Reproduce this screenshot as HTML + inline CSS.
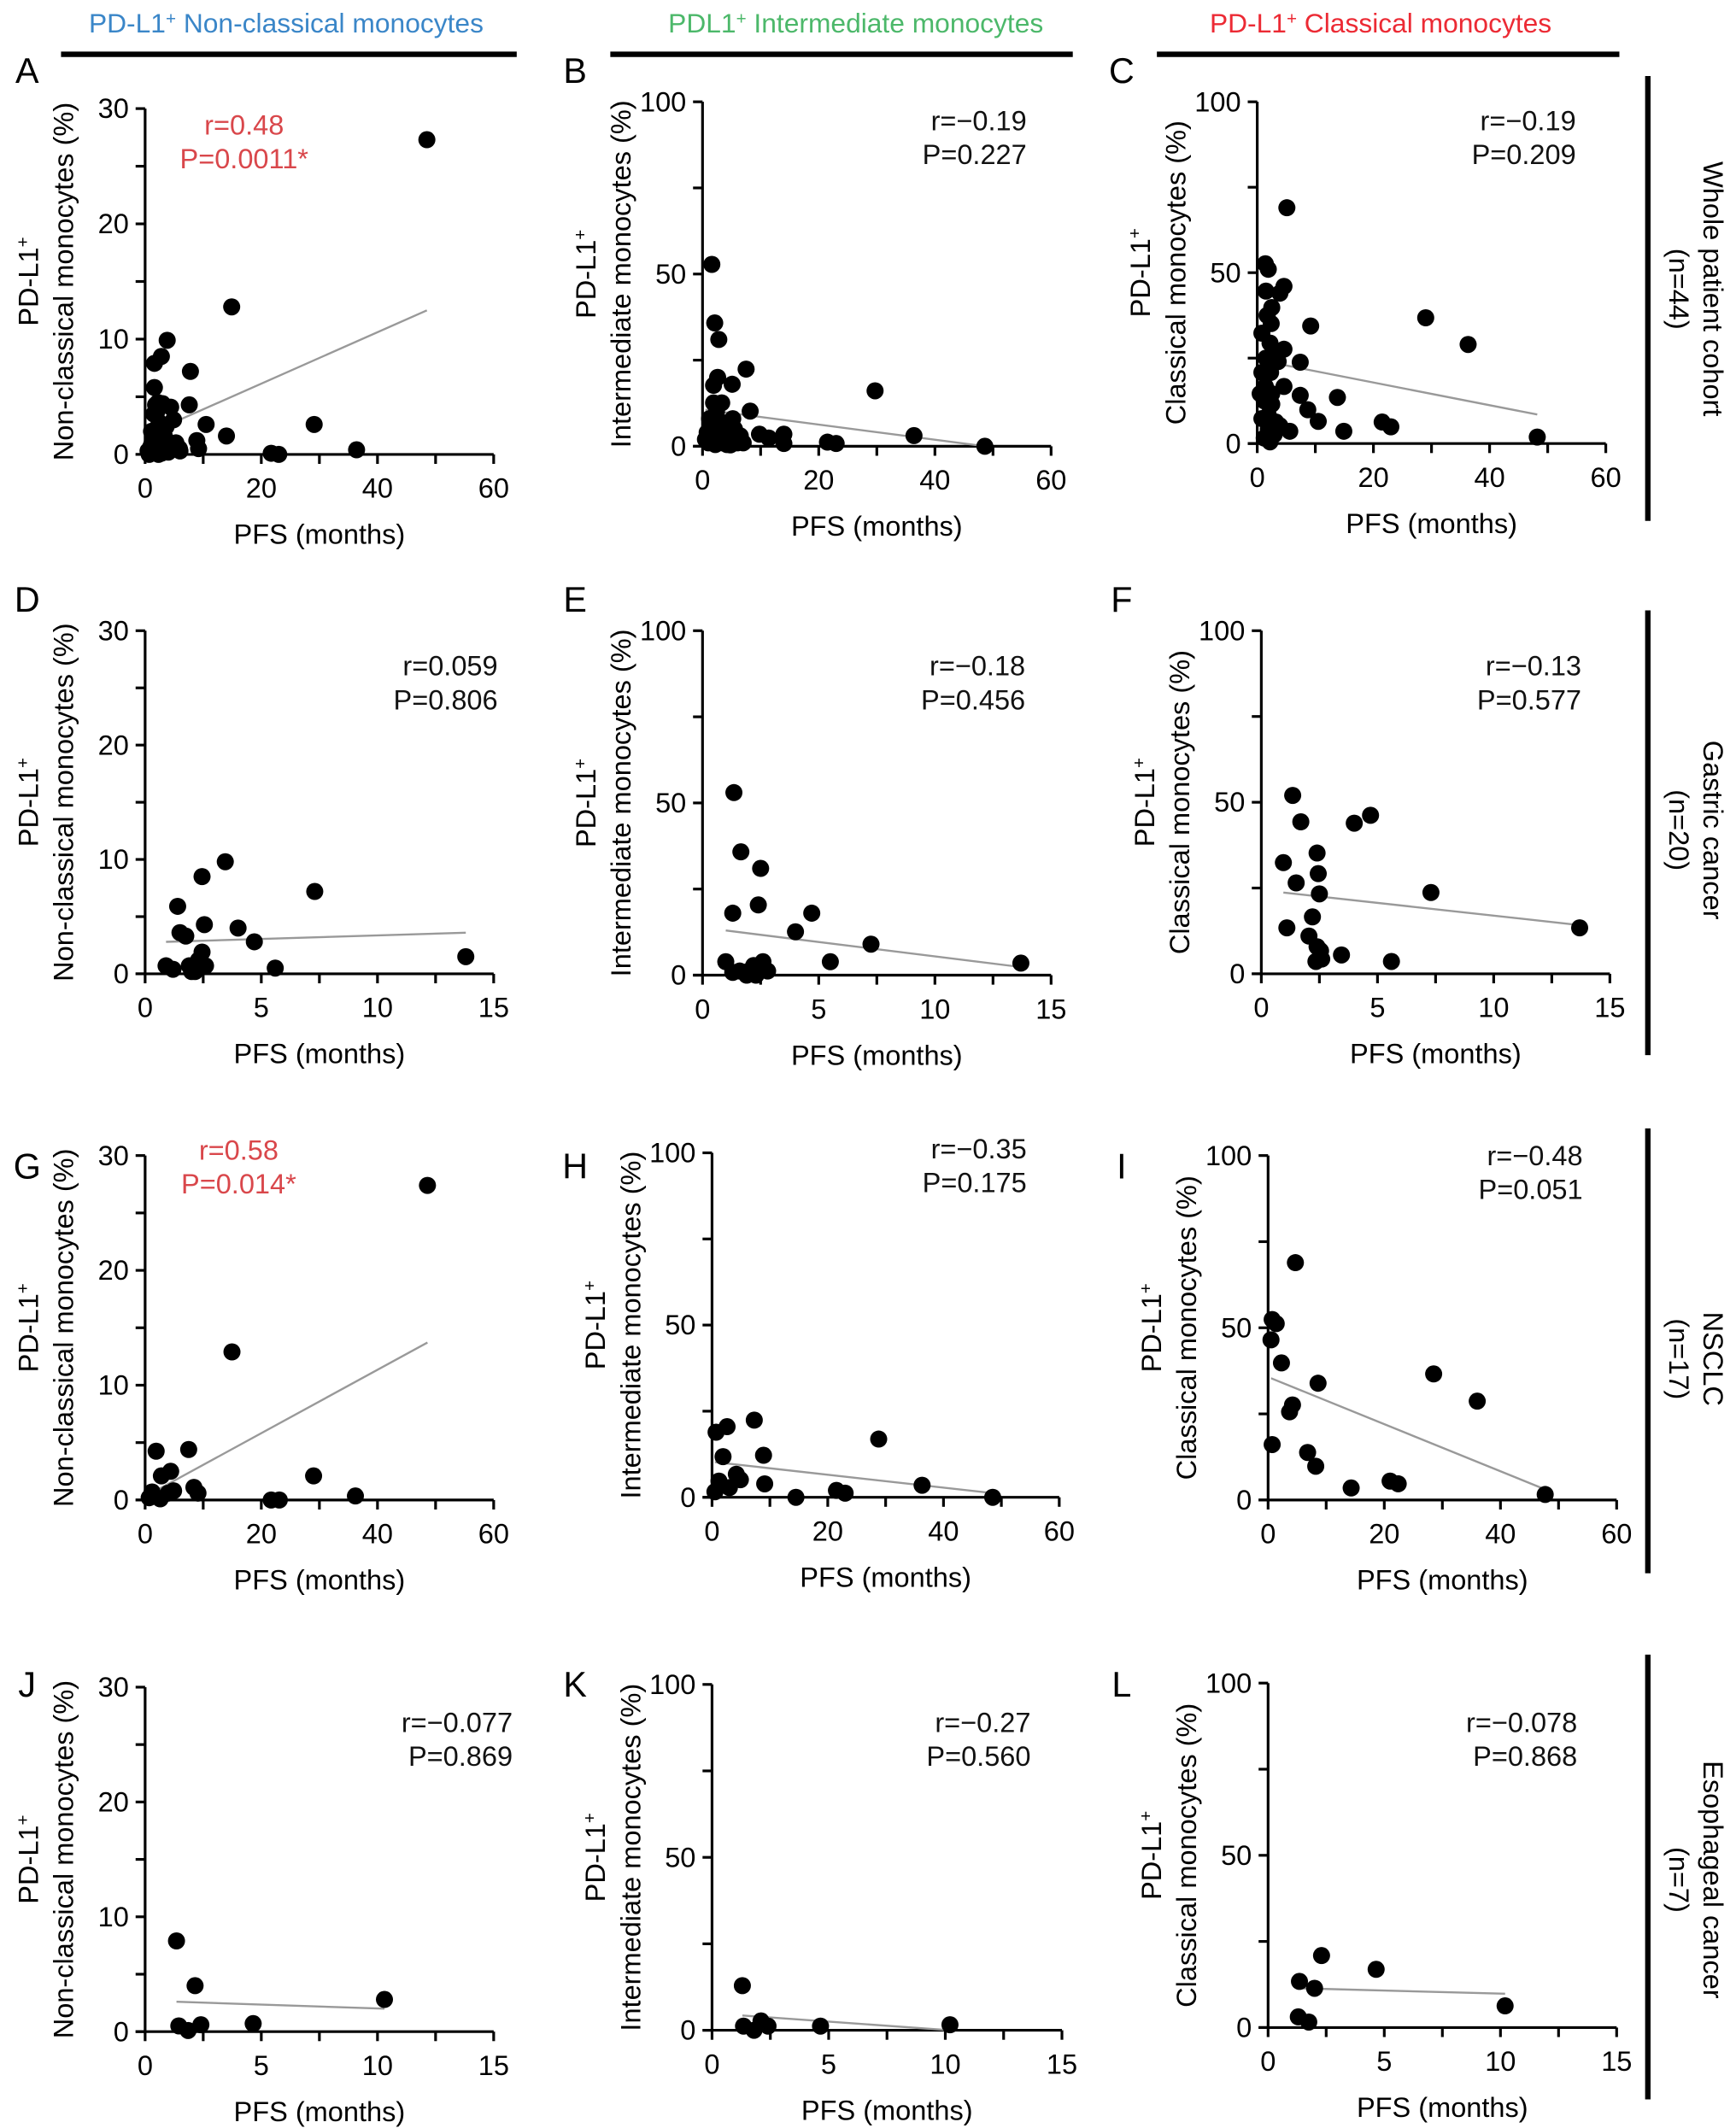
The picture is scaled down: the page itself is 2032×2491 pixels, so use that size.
<!DOCTYPE html>
<html><head><meta charset="utf-8"><style>
html,body{margin:0;padding:0;background:#fff;}
svg{display:block;}
text{font-family:"Liberation Sans",Arial,sans-serif;}
</style></head><body>
<svg id="fig" xmlns="http://www.w3.org/2000/svg" width="2032" height="2491" viewBox="0 0 1280 1569">
<g>
<text x="211" y="24" font-size="20" text-anchor="middle" fill="#3a86c8">PD-L1<tspan font-size="13" dy="-6">+</tspan><tspan dy="6"> Non-classical monocytes</tspan></text>
<line x1="45" y1="40" x2="381" y2="40" stroke="#000" stroke-width="4"/>
<text x="631" y="24" font-size="20" text-anchor="middle" fill="#4cb86a">PDL1<tspan font-size="13" dy="-6">+</tspan><tspan dy="6"> Intermediate monocytes</tspan></text>
<line x1="450" y1="40" x2="791" y2="40" stroke="#000" stroke-width="4"/>
<text x="1018" y="24" font-size="20" text-anchor="middle" fill="#ec2a34">PD-L1<tspan font-size="13" dy="-6">+</tspan><tspan dy="6"> Classical monocytes</tspan></text>
<line x1="853" y1="40" x2="1194" y2="40" stroke="#000" stroke-width="4"/>
</g>
<g>
<line x1="1215" y1="56" x2="1215" y2="384" stroke="#000" stroke-width="4"/>
<text transform="translate(1256,213) rotate(90)" font-size="20.5" text-anchor="middle">Whole patient cohort</text>
<text transform="translate(1231,213) rotate(90)" font-size="20.5" text-anchor="middle">(n=44)</text>
<line x1="1215" y1="450" x2="1215" y2="778" stroke="#000" stroke-width="4"/>
<text transform="translate(1256,612) rotate(90)" font-size="20.5" text-anchor="middle">Gastric cancer</text>
<text transform="translate(1231,612) rotate(90)" font-size="20.5" text-anchor="middle">(n=20)</text>
<line x1="1215" y1="832" x2="1215" y2="1160" stroke="#000" stroke-width="4"/>
<text transform="translate(1256,1002) rotate(90)" font-size="20.5" text-anchor="middle">NSCLC</text>
<text transform="translate(1231,1002) rotate(90)" font-size="20.5" text-anchor="middle">(n=17)</text>
<line x1="1215" y1="1220" x2="1215" y2="1548" stroke="#000" stroke-width="4"/>
<text transform="translate(1256,1386) rotate(90)" font-size="20.5" text-anchor="middle">Esophageal cancer</text>
<text transform="translate(1231,1386) rotate(90)" font-size="20.5" text-anchor="middle">(n=7)</text>
</g>
<g id="panels"></g>
</svg>
<script>
// ---- data (PFS months, % positive) ----
const aX=[48.5,14.9,3.8,2.8,1.6,7.8,1.6,1.8,3.0,4.4,7.6,10.5,14.0,4.9,3.6,2.6,29.1,36.4,21.7,23.0,5.3,5.9,8.9,9.2,1.0,1.6,2.3,0.7,3.3,2.0,1.2,2.5,3.0,4.5,1.5,2.2,3.5,0.5,6.0,1.8,2.8,4.0,1.1,2.4];
const aY=[27.3,12.8,9.9,8.5,7.9,7.2,5.8,4.3,4.4,4.1,4.3,2.6,1.6,3.0,2.4,1.9,2.6,0.4,0.1,0.0,1.0,0.5,1.2,0.5,0.7,0.2,0.0,0.0,1.6,3.7,1.0,0.3,0.8,0.6,3.5,4.5,1.2,0.3,0.3,0.5,0.1,0.2,2.0,2.8];
const bX=[1.6,2.1,2.8,2.6,7.5,1.9,5.1,1.9,3.3,8.2,14.0,9.8,11.4,14.0,29.7,36.4,48.6,21.5,23.0,1.0,1.5,2.0,2.5,3.0,3.5,4.0,4.5,5.0,5.5,6.0,0.8,1.2,2.2,3.2,4.2,6.5,7.0,1.8,2.8,3.8,5.2,0.5,2.4,4.8];
const bY=[52.8,35.8,31.0,20.0,22.4,17.7,18.0,12.6,12.6,10.2,3.5,3.5,2.4,0.8,16.1,3.1,0.0,1.2,0.8,1.0,3.0,5.0,2.0,4.0,1.0,6.0,3.0,2.0,5.0,1.0,4.0,8.0,0.5,7.0,0.5,3.0,1.0,2.0,6.0,3.0,8.0,2.0,10.0,0.4];
const cX=[5.1,1.4,1.9,4.6,3.9,1.5,2.5,2.4,9.2,0.8,2.2,4.6,3.2,7.4,2.3,29.0,36.3,1.4,4.6,7.4,13.8,8.7,10.5,14.9,21.5,23.0,5.6,48.2,0.8,1.2,2.5,3.2,1.9,2.9,1.2,2.2,0.5,1.9,3.9,1.5,0.8,2.5,3.6,1.7];
const cY=[69,52.6,51,46,44,44.6,39.8,35.1,34.4,32.3,29.4,27.6,25.8,23.8,20.8,36.8,29,16.7,16.7,14.1,13.5,9.9,6.5,3.6,6.3,4.9,3.6,1.9,20.8,12.5,11.5,6.3,4.2,2.6,1.6,0.5,14.6,8.3,5.2,25,7.3,14.6,24,37.5];
const dX=[0.9,1.2,1.4,1.5,1.75,2.45,3.45,2.55,4.0,4.7,5.6,7.3,13.8,1.9,2.15,2.3,2.45,2.6,2.25,2.0];
const dY=[0.7,0.4,5.9,3.6,3.3,8.5,9.8,4.3,4.0,2.8,0.5,7.2,1.5,0.7,0.2,1.2,1.9,0.7,0.4,0.2];
const eX=[1.35,1.65,2.5,1.3,2.4,4.7,4.0,7.25,5.5,13.7,1.0,1.3,2.0,2.2,2.45,2.6,2.3,1.9,2.8,1.6];
const eY=[53,35.8,31,18,20.4,18,12.6,9,3.9,3.5,3.9,0.8,1.2,2.8,1.2,3.9,0,0,1.2,1.2];
const fX=[1.35,1.7,0.95,2.4,2.45,4.0,4.7,1.5,2.5,1.1,2.05,2.2,2.4,2.55,2.35,3.45,5.6,7.3,13.7,2.6];
const fY=[52,44.3,32.4,35.2,29.2,43.9,46.2,26.5,23.3,13.4,11,16.6,7.9,6.7,3.6,5.5,3.6,23.7,13.4,4.3];
const gX=[48.6,14.95,1.9,7.5,2.8,4.4,8.4,9.1,29,36.2,21.7,23.1,4.9,0.7,1.2,2.6,4.0];
const gY=[27.4,12.9,4.25,4.4,2.1,2.5,1.1,0.6,2.1,0.35,0,0,0.8,0.2,0.7,0.1,0.6];
const hX=[0.7,2.6,7.3,1.9,8.9,28.8,4.2,4.9,1.2,9.1,14.5,21.5,23,36.3,48.5,0.5,3.0];
const hY=[18.9,20.5,22.4,11.8,12.2,16.9,6.7,5.1,4.7,3.9,0,2,1.2,3.5,0,1.6,2.8];
const iX=[4.7,0.7,1.4,0.5,2.3,8.6,28.5,36,4.2,3.7,0.7,6.8,8.2,14.3,21,22.4,47.7];
const iY=[68.9,52.4,51.2,46.5,39.8,33.9,36.6,28.7,27.6,25.6,16.1,13.8,9.8,3.5,5.5,4.7,1.6];
const jX=[1.35,2.15,1.45,1.85,2.4,4.65,10.3];
const jY=[7.9,4.0,0.5,0.1,0.6,0.7,2.8];
const kX=[1.3,1.35,1.8,2.1,2.4,4.65,10.2];
const kY=[12.9,1.2,0,2.7,1.2,1.2,1.6];
const lX=[1.35,1.3,1.75,2.0,2.3,4.65,10.2];
const lY=[13.4,3.1,1.6,11.4,20.9,16.9,6.3];
// regression fits: [slope, intercept, xStart, xEnd]
const fitA=[0.223,1.68,5.5,48.5];
const fitB=[-0.22,10.7,0.5,48.5];
const fitC=[-0.332,24.5,3.2,48.2];
const fitD=[0.062,2.74,0.9,13.8];
const fitE=[-0.835,13.8,1.0,13.7];
const fitF=[-0.745,24.4,0.95,13.7];
const fitG=[0.276,0.3,0.7,48.6];
const fitH=[-0.1875,10.3,0.5,48.5];
const fitI=[-0.684,35.7,0.5,47.7];
const fitJ=[-0.067,2.69,1.35,10.3];
const fitK=[-0.48,4.9,1.3,10.2];
const fitL=[-0.18,11.65,1.35,10.2];
const statsR=["r=0.48","r=\u22120.19","r=\u22120.19","r=0.059","r=\u22120.18","r=\u22120.13","r=0.58","r=\u22120.35","r=\u22120.48","r=\u22120.077","r=\u22120.27","r=\u22120.078"];
const statsP=["P=0.0011*","P=0.227","P=0.209","P=0.806","P=0.456","P=0.577","P=0.014*","P=0.175","P=0.051","P=0.869","P=0.560","P=0.868"];
const xTicks60=[0,20,40,60];
const xTicks15=[0,5,10,15];
const yTicks30=[0,10,20,30];
const yTicks100=[0,50,100];

// ---- layout ----
const NS="http://www.w3.org/2000/svg";
const root=document.getElementById('panels');
function el(tag,attrs,parent,txt){const e=document.createElementNS(NS,tag);for(const k in attrs)e.setAttribute(k,attrs[k]);if(txt!==undefined)e.textContent=txt;parent.appendChild(e);return e;}
const FS=20.5;
const panels=[
 {id:'a',L:'A',x0:107,x1:364,y0:335,y1:80,xmax:60,ymax:30,xs:aX,ys:aY,fit:fitA,lab:'Non-classical monocytes (%)',lx:[20,52],red:true,sx:180,sy:99},
 {id:'b',L:'B',x0:518,x1:775,y0:329,y1:75,xmax:60,ymax:100,xs:bX,ys:bY,fit:fitB,lab:'Intermediate monocytes (%)',lx:[424,52],sx:757,sy:96},
 {id:'c',L:'C',x0:927,x1:1184,y0:327,y1:75,xmax:60,ymax:100,xs:cX,ys:cY,fit:fitC,lab:'Classical monocytes (%)',lx:[827,52],sx:1162,sy:96},
 {id:'d',L:'D',x0:107,x1:364,y0:718,y1:465,xmax:15,ymax:30,xs:dX,ys:dY,fit:fitD,lab:'Non-classical monocytes (%)',lx:[20,442],sx:367,sy:498},
 {id:'e',L:'E',x0:518,x1:775,y0:719,y1:465,xmax:15,ymax:100,xs:eX,ys:eY,fit:fitE,lab:'Intermediate monocytes (%)',lx:[424,442],sx:756,sy:498},
 {id:'f',L:'F',x0:930,x1:1187,y0:718,y1:465,xmax:15,ymax:100,xs:fX,ys:fY,fit:fitF,lab:'Classical monocytes (%)',lx:[827,442],sx:1166,sy:498},
 {id:'g',L:'G',x0:107,x1:364,y0:1106,y1:852,xmax:60,ymax:30,xs:gX,ys:gY,fit:fitG,lab:'Non-classical monocytes (%)',lx:[20,860],red:true,sx:176,sy:855},
 {id:'h',L:'H',x0:525,x1:781,y0:1104,y1:850,xmax:60,ymax:100,xs:hX,ys:hY,fit:fitH,lab:'Intermediate monocytes (%)',lx:[424,860],sx:757,sy:854},
 {id:'i',L:'I',x0:935,x1:1192,y0:1106,y1:852,xmax:60,ymax:100,xs:iX,ys:iY,fit:fitI,lab:'Classical monocytes (%)',lx:[827,860],sx:1167,sy:859},
 {id:'j',L:'J',x0:107,x1:364,y0:1498,y1:1244,xmax:15,ymax:30,xs:jX,ys:jY,fit:fitJ,lab:'Non-classical monocytes (%)',lx:[20,1242],sx:378,sy:1277},
 {id:'k',L:'K',x0:525,x1:783,y0:1497,y1:1242,xmax:15,ymax:100,xs:kX,ys:kY,fit:fitK,lab:'Intermediate monocytes (%)',lx:[424,1242],sx:760,sy:1277},
 {id:'l',L:'L',x0:935,x1:1192,y0:1495,y1:1241,xmax:15,ymax:100,xs:lX,ys:lY,fit:fitL,lab:'Classical monocytes (%)',lx:[827,1242],sx:1163,sy:1277}
];
panels.forEach((p,pi)=>{
 const g=el('g',{},root);
 
 
 const X=v=>p.x0+(v/p.xmax)*(p.x1-p.x0);
 const Y=v=>p.y0-(v/p.ymax)*(p.y0-p.y1);
 const letter=el('text',{x:p.lx[0],y:p.lx[1]+9,'font-size':26,'text-anchor':'middle'},g,p.L);
 
 
 const ax=el('g',{stroke:'#000','stroke-width':2,fill:'none'},g);
 
 
 el('line',{x1:p.x0-7,y1:p.y0,x2:p.x1,y2:p.y0},ax);
 el('line',{x1:p.x0,y1:p.y0,x2:p.x0,y2:p.y1},ax);
 const xt=p.xmax===60?xTicks60:xTicks15;
 const yt=p.ymax===30?yTicks30:yTicks100;
 const xstep=xt[1]-xt[0], ystep=yt[1]-yt[0];
 for(let v=0;v<=p.xmax+1e-9;v+=xstep/2){el('line',{x1:X(v),y1:p.y0,x2:X(v),y2:p.y0+7},ax);}
 for(let v=0;v<=p.ymax+1e-9;v+=ystep/2){el('line',{x1:p.x0-7,y1:Y(v),x2:p.x0,y2:Y(v)},ax);}
 xt.forEach(v=>{const t=el('text',{x:X(v),y:p.y0+32,'font-size':FS,'text-anchor':'middle'},g,String(v));
  
  });
 yt.forEach(v=>{const t=el('text',{x:p.x0-12,y:Y(v)+7,'font-size':FS,'text-anchor':'end'},g,String(v));
  
  });
 const xl=el('text',{x:(p.x0+p.x1)/2,y:p.y0+66,'font-size':FS,'text-anchor':'middle'},g,'PFS (months)');
 
 
 const cy=(p.y0+p.y1)/2;
 const yl1=el('text',{transform:`translate(${p.x0-79},${cy}) rotate(-90)`,'font-size':FS,'text-anchor':'middle'},g);
 
 
 yl1.innerHTML='PD-L1<tspan font-size="13" dy="-7">+</tspan>';
 const yl2=el('text',{transform:`translate(${p.x0-53},${cy}) rotate(-90)`,'font-size':FS,'text-anchor':'middle'},g,p.lab);
 
 
 const f=p.fit;
 const fl=el('line',{x1:X(f[2]),y1:Y(f[0]*f[2]+f[1]),x2:X(f[3]),y2:Y(f[0]*f[3]+f[1]),stroke:'#999','stroke-width':1.5},g);
 
 
 p.xs.forEach((xv,i)=>{const c=el('circle',{cx:X(xv),cy:Y(p.ys[i]),r:6.3,fill:'#000'},g);
  
  });
 const col=p.red?'#d9474b':'#111', anc=p.red?'middle':'end';
 const r=el('text',{x:p.sx,y:p.sy,'font-size':FS,'text-anchor':anc,fill:col},g,statsR[pi]);
 
 
 const pp=el('text',{x:p.sx,y:p.sy+25,'font-size':FS,'text-anchor':anc,fill:col},g,statsP[pi]);
 
 
});
</script>
</body></html>
